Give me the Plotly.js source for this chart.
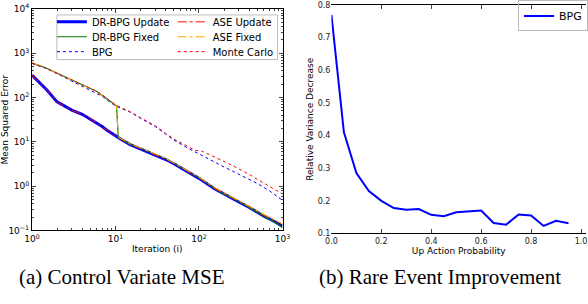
<!DOCTYPE html>
<html><head><meta charset="utf-8">
<script src="https://cdn.plot.ly/plotly-3.0.1.min.js"></script>
<style>html,body{margin:0;padding:0;background:#fff}#chart{width:588px;height:304px}</style>
</head><body><div id="chart"></div>
<script>
// ---- Left panel: Control Variate MSE (log-log) ----
const iterLow = [1,1.5,2,2.5,3,4,5,6,7,8,9,10,12,15,20,25,30,40,50,70,100,150,200,300,400,600,800,1000];
const drbpgUpdate = [320,150,80,62,52,42,33,27,22,18,15.5,13.5,11,8.7,7,5.9,5.0,4.0,3.2,2.2,1.5,0.9,0.66,0.44,0.33,0.21,0.16,0.125];
const aseUpdate   = [322,152,81,61,52,42.5,33.5,26.5,22.3,18.2,15.3,13.6,11.2,8.8,7.1,6.0,5.1,4.1,3.3,2.25,1.55,0.93,0.68,0.46,0.35,0.22,0.17,0.14];

const iterFixed = [1,1.5,2,2.5,3,4,5,6,7,8,9,10,10.3,10.8,12,15,20,25,30,40,50,70,100,150,200,300,400,600,800,1000];
const drbpgFixed = [600,460,355,290,245,192,160,137,113,92,78,68,64,12.5,11.2,8.9,7.2,6.0,5.1,4.15,3.3,2.3,1.55,0.92,0.67,0.45,0.33,0.21,0.155,0.115];
const aseFixed   = [605,462,352,288,247,190,158,135,112,93,79,67,64,12.8,11.4,9.0,7.3,6.1,5.2,4.2,3.35,2.35,1.6,0.95,0.7,0.47,0.35,0.23,0.17,0.14];

const iterUp = [1,1.5,2,2.5,3,4,5,6,7,8,9,10,12,15,20,25,30,40,50,70,90,100,110,130,150,200,250,300,400,500,700,1000];
const bpg        = [590,450,345,280,232,180,148,126,106,87,75,65,56,47,34,27,22,15,11,7.6,5.9,5.3,4.8,4.0,3.5,2.7,2.2,1.85,1.42,1.15,0.78,0.48];
const monteCarlo = [605,462,356,292,247,193,161,138,114,93,79,68,58,48,35,28,23,15.5,11.6,8.3,6.4,6.3,6.1,5.3,4.7,3.6,2.95,2.45,1.85,1.42,0.97,0.67];

const logTickVals = [0.1,1,10,100,1000,10000];
const logTickText = ['10<sup>\u22121</sup>','10<sup>0</sup>','10<sup>1</sup>','10<sup>2</sup>','10<sup>3</sup>','10<sup>4</sup>'];

// ---- Right panel: Rare Event Improvement ----
const upProb = [0.0,0.05,0.1,0.15,0.2,0.25,0.3,0.35,0.4,0.45,0.5,0.55,0.6,0.65,0.7,0.75,0.8,0.85,0.9,0.95];
const relVarDec = [0.77,0.41,0.285,0.23,0.2,0.178,0.173,0.175,0.157,0.153,0.165,0.168,0.17,0.132,0.127,0.158,0.155,0.123,0.139,0.131];

const traces = [
  {x:iterLow, y:drbpgUpdate, name:'DR-BPG Update', mode:'lines', line:{color:'#0000ff', width:3}, legend:'legend'},
  {x:iterFixed, y:drbpgFixed, name:'DR-BPG Fixed', mode:'lines', line:{color:'#008000', width:1.2}, legend:'legend2'},
  {x:iterUp, y:bpg, name:'BPG', mode:'lines', line:{color:'#0000ff', width:1, dash:'dot'}, legend:'legend3'},
  {x:iterLow, y:aseUpdate, name:'ASE Update', mode:'lines', line:{color:'#ff0000', width:1, dash:'dashdot'}, legend:'legend4'},
  {x:iterFixed, y:aseFixed, name:'ASE Fixed', mode:'lines', line:{color:'#ffaa00', width:1, dash:'dashdot'}, legend:'legend5'},
  {x:iterUp, y:monteCarlo, name:'Monte Carlo', mode:'lines', line:{color:'#ff0000', width:1, dash:'3px,3px'}, legend:'legend6'},
  {x:upProb, y:relVarDec, name:'BPG', mode:'lines', line:{color:'#0000ff', width:2}, xaxis:'x2', yaxis:'y2', legend:'legend7'}
];

function leg(xpx, ypx, extra) {
  return Object.assign({x:xpx/588, y:1-ypx/304, xanchor:'left', yanchor:'middle', bgcolor:'rgba(0,0,0,0)',
    borderwidth:0, font:{size:10, color:'#000'}}, extra||{});
}

const axFont = {family:'DejaVu Sans, sans-serif', size:9, color:'#000'};
const layout = {
  width:588, height:304, margin:{l:0,r:0,t:0,b:0},
  paper_bgcolor:'#fff', plot_bgcolor:'#fff',
  font:{family:'DejaVu Sans, sans-serif', size:9, color:'#000'},
  showlegend:true,
  xaxis:{type:'log', domain:[32/588, 283/588], range:[0,3], tickvals:logTickVals, ticktext:logTickText,
    ticks:'inside', ticklen:4, mirror:'ticks', showline:true, linecolor:'#000', linewidth:1,
    showgrid:false, zeroline:false, tickfont:axFont,
    minor:{ticks:'inside', ticklen:2, dtick:'D1', showgrid:false},
    title:{text:'Iteration (i)', font:axFont, standoff:2}},
  yaxis:{type:'log', domain:[74/304, 297/304], range:[-1,4], tickvals:logTickVals, ticktext:logTickText,
    ticks:'inside', ticklen:4, mirror:'ticks', showline:true, linecolor:'#000', linewidth:1,
    showgrid:false, zeroline:false, tickfont:axFont,
    minor:{ticks:'inside', ticklen:2, dtick:'D1', showgrid:false},
    title:{text:'Mean Squared Error', font:axFont, standoff:4}},
  xaxis2:{anchor:'y2', domain:[332/588, 587/588], range:[0,1.02], tickvals:[0,0.2,0.4,0.6,0.8,1.0], tickformat:'.1f',
    ticks:'inside', ticklen:4, mirror:'ticks', showline:true, linecolor:'#000', linewidth:1,
    showgrid:false, zeroline:false, tickfont:{family:'DejaVu Sans, sans-serif', size:8, color:'#222'},
    title:{text:'Up Action Probability', font:axFont, standoff:1}},
  yaxis2:{anchor:'x2', domain:[71/304, 301/304], range:[0.1,0.8], tickvals:[0.1,0.2,0.3,0.4,0.5,0.6,0.7,0.8], tickformat:'.1f',
    ticks:'', showline:false, showgrid:false, zeroline:false,
    tickfont:{family:'DejaVu Sans, sans-serif', size:8, color:'#222'},
    title:{text:'Relative Variance Decrease', font:axFont, standoff:2}},
  legend:leg(52,20), legend2:leg(52,35), legend3:leg(52,50),
  legend4:leg(173,20), legend5:leg(173,35), legend6:leg(173,50),
  legend7:leg(519,14,{bordercolor:'#bbbbbb', borderwidth:1, font:{size:11, color:'#000'}}),
  shapes:[{type:'rect', xref:'paper', yref:'paper', x0:57/588, x1:278/588, y0:1-58/304, y1:1-13/304,
    line:{color:'#bbbbbb', width:1}, fillcolor:'rgba(0,0,0,0)'}],
  annotations:[
    {text:'(a) Control Variate MSE', xref:'paper', yref:'paper', x:122/588, y:1-277/304, showarrow:false,
      xanchor:'center', yanchor:'middle', font:{family:'Liberation Serif, Times New Roman, serif', size:21, color:'#000'}},
    {text:'(b) Rare Event Improvement', xref:'paper', yref:'paper', x:441/588, y:1-277/304, showarrow:false,
      xanchor:'center', yanchor:'middle', font:{family:'Liberation Serif, Times New Roman, serif', size:21, color:'#000'}}
  ]
};
Plotly.newPlot('chart', traces, layout, {displayModeBar:false, staticPlot:true});
</script></body></html>
